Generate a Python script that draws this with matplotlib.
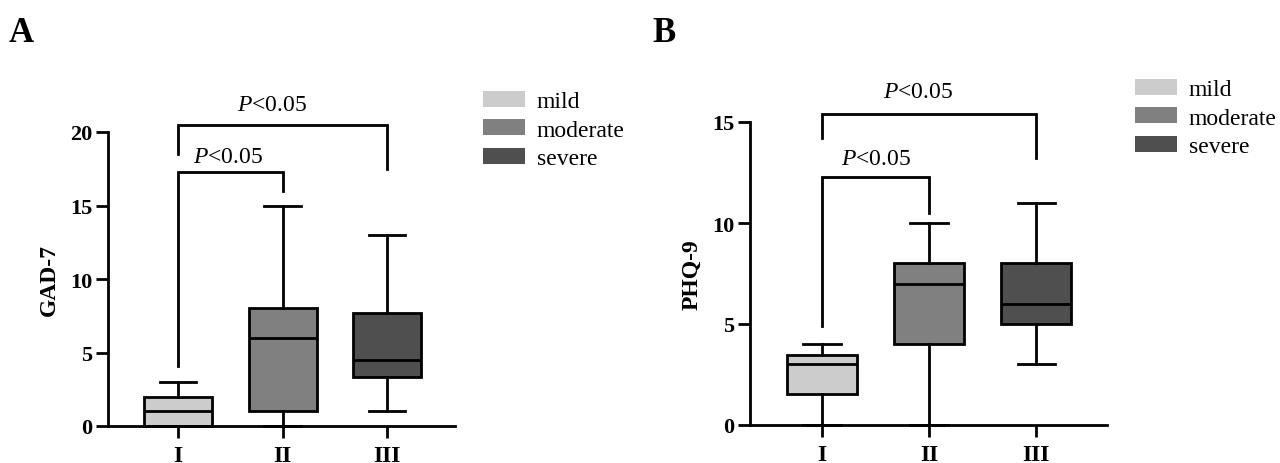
import matplotlib
matplotlib.use("Agg")
import matplotlib.pyplot as plt
from matplotlib.patches import Patch

plt.rcParams['font.family'] = ['Liberation Serif', 'DejaVu Serif']
plt.rcParams['mathtext.fontset'] = 'custom'
plt.rcParams['mathtext.it'] = 'Liberation Serif:italic'
plt.rcParams['mathtext.rm'] = 'Liberation Serif'

categories = ["I", "II", "III"]
legend_labels = ["mild", "moderate", "severe"]
colors = ["#cccccc", "#808080", "#4f4f4f"]

# Panel A: GAD-7
gad_low = [0, 0, 1]
gad_q1 = [0, 1, 3.3]
gad_med = [1, 6, 4.5]
gad_q3 = [2, 8, 7.7]
gad_high = [3, 15, 13]
gad_yticks = [0, 5, 10, 15, 20]

# Panel B: PHQ-9
phq_low = [0, 0, 3]
phq_q1 = [1.55, 4, 5]
phq_med = [3, 7, 6]
phq_q3 = [3.45, 8, 8]
phq_high = [4, 10, 11]
phq_yticks = [0, 5, 10, 15]

p_text = r"$P$<0.05"

LW = 2.0
FS = 17
TFS = 16

fig = plt.figure(figsize=(12.8, 4.64), dpi=100)


def panel(rect, low, q1, med, q3, high, yticks, ylabel, xlim, brackets, texts):
    ax = fig.add_axes(rect)
    stats = []
    for i in range(len(categories)):
        stats.append(dict(whislo=low[i], q1=q1[i], med=med[i], q3=q3[i],
                          whishi=high[i], label=categories[i]))
    pos = list(range(len(categories)))
    bp = ax.bxp(stats, positions=pos, widths=0.65, capwidths=0.35,
                showfliers=False, patch_artist=True,
                boxprops=dict(linewidth=LW, edgecolor='black'),
                medianprops=dict(linewidth=LW, color='black'),
                whiskerprops=dict(linewidth=LW, color='black'),
                capprops=dict(linewidth=LW, color='black'))
    for patch, c in zip(bp['boxes'], colors):
        patch.set_facecolor(c)
    for key in ['boxes', 'medians', 'whiskers', 'caps']:
        for a in bp[key]:
            a.set_clip_on(False)
    ax.set_xlim(*xlim)
    ax.set_ylim(0, yticks[-1])
    ax.set_yticks(yticks)
    ax.set_xticks(pos)
    ax.set_xticklabels(categories)
    for lab in ax.get_xticklabels() + ax.get_yticklabels():
        lab.set_fontweight('bold')
        lab.set_fontsize(TFS)
    for lab in ax.get_xticklabels():
        lab.set_fontsize(FS)
    ax.tick_params(axis='both', width=LW, length=8.5, direction='out')
    ax.tick_params(axis='x', pad=5)
    ax.tick_params(axis='y', pad=3)
    ax.spines['top'].set_visible(False)
    ax.spines['right'].set_visible(False)
    for s in ['left', 'bottom']:
        ax.spines[s].set_linewidth(LW)
    ax.set_ylabel(ylabel, fontsize=FS, fontweight='bold', labelpad=7)
    for (x0, x1, ytop, yl, yr), (tx, ty) in zip(brackets, texts):
        ax.plot([x0, x0, x1, x1], [yl, ytop, ytop, yr], color='black',
                lw=LW, clip_on=False, solid_joinstyle='miter')
        ax.text(tx, ty, p_text, ha='center', va='center', fontsize=FS)
    return ax


axA = panel([108 / 1280, 37 / 464, 347 / 1280, 294 / 464],
            gad_low, gad_q1, gad_med, gad_q3, gad_high, gad_yticks, "GAD-7",
            (-0.67, 2.65),
            [(0, 2, 20.5, 18.5, 17.5), (0, 1, 17.3, 4.1, 16.0)],
            [(0.9, 21.9), (0.48, 18.35)])

axB = panel([750 / 1280, 38 / 464, 357 / 1280, 303 / 464],
            phq_low, phq_q1, phq_med, phq_q3, phq_high, phq_yticks, "PHQ-9",
            (-0.673, 2.66),
            [(0, 2, 15.4, 14.2, 13.2), (0, 1, 12.3, 4.9, 10.5)],
            [(0.9, 16.5), (0.5, 13.2)])

handles = [Patch(facecolor=c, edgecolor='none') for c in colors]
for x, y in [(483 / 1280, 1 - 91.5 / 464), (1135 / 1280, 1 - 79.5 / 464)]:
    fig.legend(handles, legend_labels, loc='upper left', bbox_to_anchor=(x, y),
               frameon=False, fontsize=FS, handlelength=1.78, handleheight=0.68,
               handletextpad=0.5, labelspacing=0.31, borderaxespad=0, borderpad=0)

fig.text(9 / 1280, 1 - 42 / 464, "A", fontsize=25, fontweight='bold', va='baseline')
fig.text(652 / 1280, 1 - 42 / 464, "B", fontsize=25, fontweight='bold', va='baseline')

fig.savefig("out.png", dpi=100)
